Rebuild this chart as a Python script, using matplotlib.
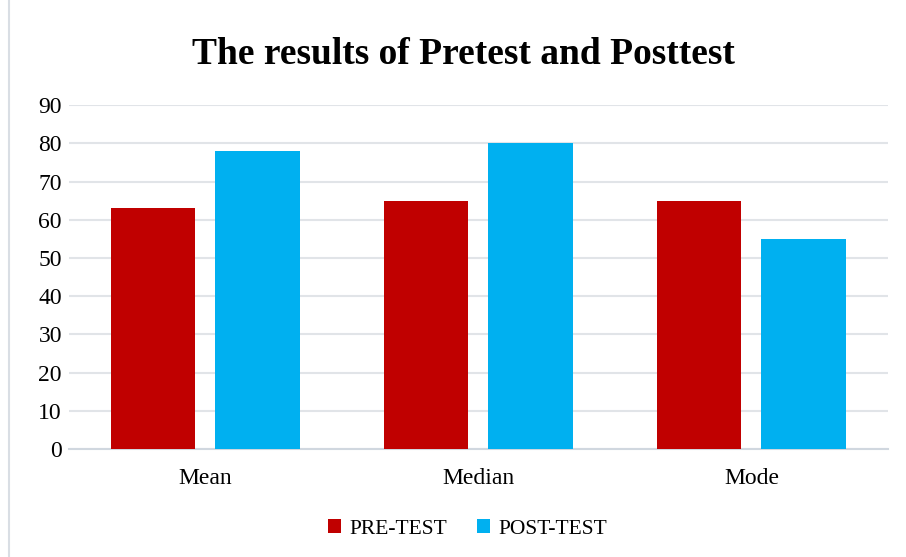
import matplotlib.pyplot as plt
import matplotlib.patches as mpatches
import numpy as np

plt.rcParams['font.family'] = ['Liberation Serif', 'DejaVu Serif']

# data
categories = ['Mean', 'Median', 'Mode']
pre_test = [63, 65, 65]
post_test = [78, 80, 55]

fig = plt.figure(figsize=(9.06, 5.57), dpi=100)
ax = fig.add_axes([0.076, 0.194, 0.904, 0.617])

x = np.arange(len(categories))
w = 0.309
off = 0.191
ax.bar(x - off, pre_test, w, color='#C00000', label='PRE-TEST', zorder=3)
ax.bar(x + off, post_test, w, color='#00B0F0', label='POST-TEST', zorder=3)

ax.set_xlim(-0.5, 2.5)
ax.set_ylim(0, 90)
ax.set_yticks(range(0, 91, 10))
ax.set_xticks(x)
ax.set_xticklabels(categories)
ax.tick_params(axis='both', length=0, labelsize=17, colors='#000000')
ax.tick_params(axis='y', pad=5)
ax.tick_params(axis='x', pad=14)
ax.grid(axis='y', color='#E1E4E8', linewidth=1.5, zorder=0)
for s in ['top', 'right', 'left']:
    ax.spines[s].set_visible(False)
ax.spines['bottom'].set_color('#D0D7DF')
ax.spines['bottom'].set_linewidth(1.5)

fig.text(0.512, 0.902, 'The results of Pretest and Posttest', ha='center', va='center',
         fontsize=27, fontweight='bold')

fig.legend(loc='center', bbox_to_anchor=(0.516, 0.050), ncol=2, frameon=False,
           fontsize=15.5, handlelength=0.6, handleheight=0.6, handletextpad=0.4,
           columnspacing=1.4)

# chart border
fig.patches.append(mpatches.Rectangle((0.01, -0.01), 1.0, 1.02, transform=fig.transFigure,
                                      fill=False, edgecolor='#D9DEE4', linewidth=1.5))

fig.savefig('out.png', dpi=100)
